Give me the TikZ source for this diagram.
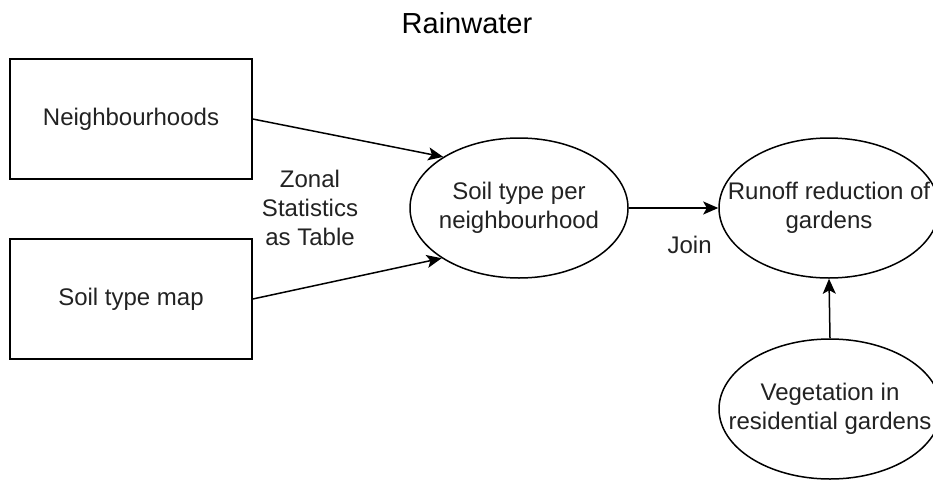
\documentclass[tikz,border=0pt]{standalone}
\usepackage{fontspec}
\setmainfont{Liberation Sans}
\usetikzlibrary{arrows.meta,shapes.geometric}
\definecolor{txt}{RGB}{34,34,34}
\tikzset{
  box/.style={draw, line width=1.5pt, minimum width=242pt, minimum height=120pt, inner sep=0pt,
              font=\fontsize{24}{29}\selectfont, text=txt},
  oval/.style={draw, ellipse, line width=1.5pt, inner sep=0pt},
  lbl/.style={font=\fontsize{24}{29}\selectfont, text=txt, align=center, inner sep=0pt},
  flow/.style={line width=1.5pt, -{Stealth[length=15pt,width=13pt,inset=3.5pt]}},
}
\begin{document}
\begin{tikzpicture}[x=1pt,y=1pt]
  \clip (0,0) rectangle (933,-479);
  \fill[white] (0,0) rectangle (933,-479);

  % title
  \node[font=\fontsize{29}{35}\selectfont, anchor=base, inner sep=0pt] (title) at (467,-33) {Rainwater};

  % input layers
  \node[box] (nb) at (131,-119) {Neighbourhoods};
  \node[box] (soil) at (131,-299) {Soil type map};

  % derived tables
  \node[oval, minimum width=218pt, minimum height=140pt,
        label={[lbl]center:{Soil type per\\neighbourhood}}] (snb) at (519,-208) {};
  \node[oval, minimum width=220pt, minimum height=140pt,
        label={[lbl]center:{Runoff reduction of\\gardens}}] (run) at (829,-208) {};
  \node[oval, minimum width=222pt, minimum height=140pt,
        label={[lbl]center:{Vegetation in\\residential gardens}}] (veg) at (830,-409) {};

  % operations
  \node[lbl] (zonal) at (310,-208) {Zonal\\Statistics\\as Table};

  \draw[flow] (nb.east) -- (snb.146.7);
  \draw[flow] (soil.east) -- (snb.213.3);
  \draw[flow] (snb.east) -- node[lbl, pos=0.68, below=27pt] (join) {Join} (run.west);
  \draw[flow] (veg.north) -- (run.south);
\end{tikzpicture}
\end{document}
